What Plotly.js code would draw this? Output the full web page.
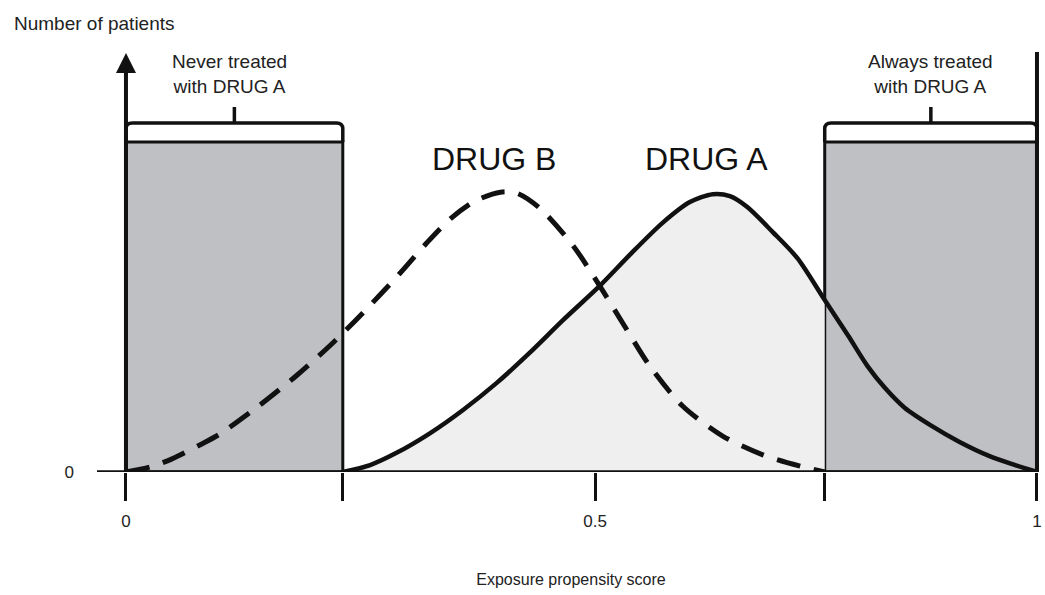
<!DOCTYPE html>
<html>
<head>
<meta charset="utf-8">
<script src="https://cdn.plot.ly/plotly-3.0.1.min.js"></script>
<style>html,body{margin:0;padding:0;background:#fff;}#chart{width:1045px;height:595px;}</style>
</head>
<body>
<div id="chart"></div>
<script>
// Exposure propensity score (schematic) and number of patients (relative units)
var drugA_x = [0.238, 0.268, 0.297, 0.334, 0.370, 0.407, 0.443, 0.480, 0.520, 0.553, 0.589, 0.619, 0.644, 0.663, 0.682, 0.710, 0.737, 0.767, 0.793, 0.814, 0.833, 0.855, 0.883, 0.915, 0.948, 0.976, 1.000];
var drugA_y = [0.000, 0.021, 0.058, 0.118, 0.188, 0.270, 0.361, 0.461, 0.564, 0.658, 0.755, 0.818, 0.842, 0.836, 0.803, 0.727, 0.648, 0.521, 0.412, 0.321, 0.255, 0.194, 0.142, 0.091, 0.048, 0.021, 0.000];
var drugB_x = [0.000, 0.026, 0.050, 0.081, 0.103, 0.147, 0.188, 0.227, 0.260, 0.301, 0.330, 0.356, 0.383, 0.411, 0.429, 0.454, 0.491, 0.520, 0.550, 0.575, 0.611, 0.655, 0.699, 0.740, 0.767];
var drugB_y = [0.000, 0.015, 0.039, 0.082, 0.115, 0.203, 0.294, 0.391, 0.482, 0.603, 0.694, 0.767, 0.821, 0.848, 0.845, 0.800, 0.685, 0.564, 0.430, 0.321, 0.200, 0.109, 0.052, 0.018, 0.000];
var neverTreated = [0, 0.238];      // score range never treated with drug A
var alwaysTreated = [0.767, 1];     // score range always treated with drug A
var regionHeight = 1.0;
var tickPositions = [0, 0.238, 0.515, 0.767, 1];
var tickLabels = ["0", "", "0.5", "", "1"];
var seriesLabels = ["DRUG B", "DRUG A"];
var regionLabels = ["Never treated<br>with DRUG A", "Always treated<br>with DRUG A"];

var FONT = "Liberation Sans, Arial, Helvetica, sans-serif";

// fill for Drug A only in the middle region
var fillX = [], fillY = [];
for (var i = 0; i < drugA_x.length; i++) {
  if (drugA_x[i] <= alwaysTreated[0] + 1e-9) { fillX.push(drugA_x[i]); fillY.push(drugA_y[i]); }
}

var SMOOTH = 0.8;
var traces = [
  {x: fillX, y: fillY, type: 'scatter', mode: 'lines', fill: 'tozeroy', fillcolor: '#efefef',
   line: {width: 0, color: 'rgba(0,0,0,0)', shape: 'spline', smoothing: SMOOTH}, hoverinfo: 'skip', showlegend: false},
  {x: drugB_x, y: drugB_y, type: 'scatter', mode: 'lines', name: seriesLabels[0],
   line: {color: '#111', width: 5, dash: '24px,14px', shape: 'spline', smoothing: SMOOTH}, showlegend: false},
  {x: drugA_x, y: drugA_y, type: 'scatter', mode: 'lines', name: seriesLabels[1],
   line: {color: '#111', width: 4.5, shape: 'spline', smoothing: SMOOTH}, showlegend: false}
];

function bracket(x0, x1) {
  var yb = regionHeight, yt = regionHeight + 0.058, ys = regionHeight + 0.106;
  var rx = 0.007, ry = 0.018, xm = (x0 + x1) / 2;
  return 'M' + x0 + ',' + yb + ' L' + x0 + ',' + (yt - ry) + ' Q' + x0 + ',' + yt + ' ' + (x0 + rx) + ',' + yt +
    ' L' + (x1 - rx) + ',' + yt + ' Q' + x1 + ',' + yt + ' ' + x1 + ',' + (yt - ry) + ' L' + x1 + ',' + yb +
    ' M' + xm + ',' + yt + ' L' + xm + ',' + ys;
}

var xMin = -0.0318, xMax = 1.0088, yMax = 1.294;

var shapes = [
  {type: 'rect', layer: 'below', xref: 'x', yref: 'y', x0: neverTreated[0], x1: neverTreated[1], y0: 0, y1: regionHeight,
   fillcolor: '#bfc0c4', line: {color: '#111', width: 3}},
  {type: 'rect', layer: 'below', xref: 'x', yref: 'y', x0: alwaysTreated[0], x1: alwaysTreated[1], y0: 0, y1: regionHeight,
   fillcolor: '#bfc0c4', line: {color: '#111', width: 3}},
  {type: 'path', xref: 'x', yref: 'y', path: bracket(neverTreated[0], neverTreated[1]), line: {color: '#111', width: 3.5}},
  {type: 'path', xref: 'x', yref: 'y', path: bracket(alwaysTreated[0], alwaysTreated[1]), line: {color: '#111', width: 3.5}},
  // baseline (x axis)
  {type: 'line', xref: 'x', yref: 'y', x0: xMin, x1: 1, y0: 0, y1: 0, line: {color: '#111', width: 3.5}},
  // y axis
  {type: 'line', xref: 'x', yref: 'y', x0: 0, x1: 0, y0: 0, y1: 1.22, line: {color: '#111', width: 4}},
  // right boundary at score 1
  {type: 'line', xref: 'x', yref: 'y', x0: 1, x1: 1, y0: 0, y1: 1.273, line: {color: '#111', width: 4}}
];

var annotations = [
  {xref: 'x', yref: 'y', x: 0, y: 1.27, ax: 0, ay: 1.2, axref: 'x', ayref: 'y', showarrow: true,
   arrowhead: 2, arrowsize: 1, arrowwidth: 4, arrowcolor: '#111', text: ''},
  {xref: 'x', yref: 'y', x: 0.404, y: 0.948, text: seriesLabels[0], showarrow: false,
   font: {family: FONT, size: 32, color: '#111'}},
  {xref: 'x', yref: 'y', x: 0.637, y: 0.948, text: seriesLabels[1], showarrow: false,
   font: {family: FONT, size: 32, color: '#111'}},
  {xref: 'x', yref: 'y', x: 0.1136, y: 1.2076, text: regionLabels[0], showarrow: false,
   font: {family: FONT, size: 19, color: '#222'}},
  {xref: 'x', yref: 'y', x: 0.8826, y: 1.2076, text: regionLabels[1], showarrow: false,
   font: {family: FONT, size: 19, color: '#222'}},
  {xref: 'paper', yref: 'paper', x: -0.0897, y: 1.0515, xanchor: 'left', yanchor: 'middle',
   text: 'Number of patients', showarrow: false, font: {family: FONT, size: 19, color: '#222'}}
];

var layout = {
  width: 1045, height: 595,
  margin: {l: 97, r: 0, t: 45, b: 123},
  paper_bgcolor: '#fff', plot_bgcolor: '#fff',
  showlegend: false,
  font: {family: FONT, size: 17, color: '#222'},
  xaxis: {range: [xMin, xMax], showgrid: false, zeroline: false, showline: false,
    tickmode: 'array', tickvals: tickPositions, ticktext: tickLabels,
    ticks: 'outside', ticklen: 28, tickwidth: 3, tickcolor: '#111', ticklabelstandoff: 6,
    tickfont: {family: FONT, size: 17, color: '#222'},
    title: {text: 'Exposure propensity score', font: {family: FONT, size: 16, color: '#222'}, standoff: 43}},
  yaxis: {range: [0, yMax], showgrid: false, zeroline: false, showline: false,
    tickmode: 'array', tickvals: [0], ticktext: ['0'], ticks: '', ticklabelstandoff: 22,
    tickfont: {family: FONT, size: 17, color: '#222'}},
  shapes: shapes,
  annotations: annotations
};

Plotly.newPlot('chart', traces, layout, {displayModeBar: false, staticPlot: true});
</script>
</body>
</html>
